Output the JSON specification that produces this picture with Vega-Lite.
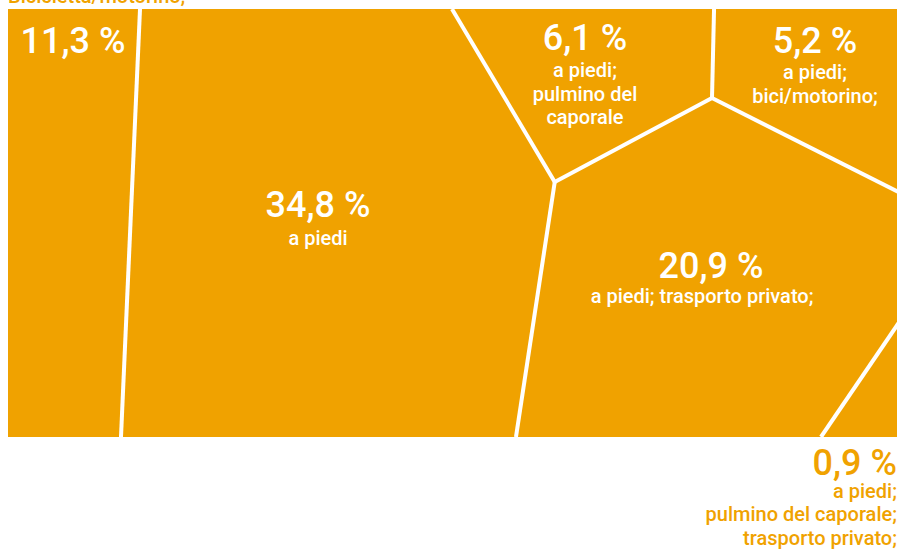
{
  "$schema": "https://vega.github.io/schema/vega-lite/v6.json",
  "width": 889,
  "height": 428,
  "autosize": {"type": "none"},
  "padding": {"left": 8, "top": 9, "right": 4, "bottom": 114},
  "background": "white",
  "config": {"view": {"stroke": null}, "text": {"font": "Roboto", "fontWeight": 500, "baseline": "alphabetic"}},
  "datasets": {
    "box": [{"x0": 0, "x1": 100, "y0": 0, "y1": 100}],
    "edges": [
      {"x": 14.85, "y": 0, "x2": 12.71, "y2": 100},
      {"x": 49.94, "y": 0, "x2": 61.5, "y2": 40.42},
      {"x": 61.5, "y": 40.42, "x2": 57.14, "y2": 100},
      {"x": 61.5, "y": 40.42, "x2": 79.19, "y2": 20.79},
      {"x": 79.19, "y": 20.79, "x2": 79.42, "y2": 0},
      {"x": 79.19, "y": 20.79, "x2": 100.3, "y2": 42.9},
      {"x": 100.3, "y": 73.0, "x2": 91.45, "y2": 100}
    ],
    "texts": [
      {"text": "11,3 %", "kind": "value", "place": "inside", "x": 7.31, "y": 10.28},
      {"text": "Bicicletta/motorino;", "kind": "desc", "place": "above", "x": 0, "y": -1.4},
      {"text": "34,8 %", "kind": "value", "place": "inside", "x": 34.87, "y": 48.6},
      {"text": "a piedi", "kind": "desc", "place": "inside", "x": 34.87, "y": 55.14},
      {"text": "6,1 %", "kind": "value", "place": "inside", "x": 64.9, "y": 9.58},
      {"text": "a piedi;\npulmino del\ncaporale", "kind": "desc", "place": "inside", "x": 64.9, "y": 15.89},
      {"text": "5,2 %", "kind": "value", "place": "inside", "x": 90.78, "y": 10.28},
      {"text": "a piedi;\nbici/motorino;", "kind": "desc", "place": "inside", "x": 90.78, "y": 16.36},
      {"text": "20,9 %", "kind": "value", "place": "inside", "x": 79.08, "y": 62.85},
      {"text": "a piedi; trasporto privato;", "kind": "desc", "place": "inside", "x": 78.07, "y": 68.69},
      {"text": "0,9 %", "kind": "value", "place": "below", "x": 100, "y": 108.88},
      {"text": "a piedi;\npulmino del caporale;\ntrasporto privato;", "kind": "desc", "place": "below", "x": 100, "y": 114.25}
    ]
  },
  "layer": [
    {
      "data": {"name": "box"},
      "mark": {"type": "rect", "color": "#F0A200"},
      "encoding": {
        "x": {"field": "x0", "type": "quantitative", "scale": {"domain": [0, 100], "nice": false, "zero": false}, "axis": null},
        "x2": {"field": "x1"},
        "y": {"field": "y0", "type": "quantitative", "scale": {"domain": [0, 100], "nice": false, "zero": false, "reverse": true}, "axis": null},
        "y2": {"field": "y1"}
      }
    },
    {
      "data": {"name": "edges"},
      "mark": {"type": "rule", "color": "white", "strokeWidth": 4, "strokeCap": "butt", "clip": true},
      "encoding": {
        "x": {"field": "x", "type": "quantitative"},
        "y": {"field": "y", "type": "quantitative"},
        "x2": {"field": "x2"},
        "y2": {"field": "y2"}
      }
    },
    {
      "data": {"name": "texts"},
      "transform": [{"filter": "datum.kind === 'value' && datum.place === 'inside'"}],
      "mark": {"type": "text", "color": "white", "fontSize": 36, "align": "center"},
      "encoding": {
        "x": {"field": "x", "type": "quantitative"},
        "y": {"field": "y", "type": "quantitative"},
        "text": {"field": "text"}
      }
    },
    {
      "data": {"name": "texts"},
      "transform": [{"filter": "datum.kind === 'desc' && datum.place === 'inside'"}],
      "mark": {"type": "text", "color": "white", "fontSize": 20, "align": "center", "lineBreak": "\n", "lineHeight": 23.5},
      "encoding": {
        "x": {"field": "x", "type": "quantitative"},
        "y": {"field": "y", "type": "quantitative"},
        "text": {"field": "text"}
      }
    },
    {
      "data": {"name": "texts"},
      "transform": [{"filter": "datum.kind === 'value' && datum.place === 'below'"}],
      "mark": {"type": "text", "color": "#F0A200", "fontSize": 36, "align": "right"},
      "encoding": {
        "x": {"field": "x", "type": "quantitative"},
        "y": {"field": "y", "type": "quantitative"},
        "text": {"field": "text"}
      }
    },
    {
      "data": {"name": "texts"},
      "transform": [{"filter": "datum.kind === 'desc' && datum.place === 'below'"}],
      "mark": {"type": "text", "color": "#F0A200", "fontSize": 20, "align": "right", "lineBreak": "\n", "lineHeight": 23.5},
      "encoding": {
        "x": {"field": "x", "type": "quantitative"},
        "y": {"field": "y", "type": "quantitative"},
        "text": {"field": "text"}
      }
    },
    {
      "data": {"name": "texts"},
      "transform": [{"filter": "datum.place === 'above'"}],
      "mark": {"type": "text", "color": "#F0A200", "fontSize": 20, "align": "left"},
      "encoding": {
        "x": {"field": "x", "type": "quantitative"},
        "y": {"field": "y", "type": "quantitative"},
        "text": {"field": "text"}
      }
    }
  ]
}
